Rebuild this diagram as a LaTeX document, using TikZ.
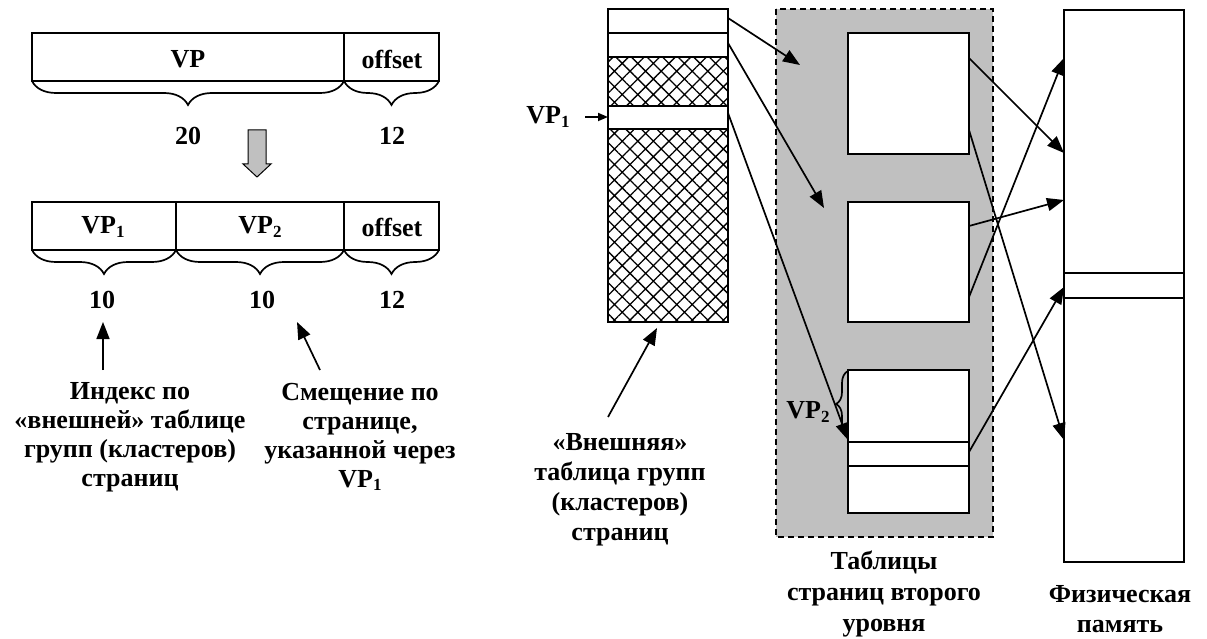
\documentclass[tikz,border=0pt]{standalone}
\usepackage{fontspec}
\setmainfont{Liberation Serif}
\usetikzlibrary{arrows.meta,decorations.pathreplacing,patterns.meta}
\newcommand{\mysub}[1]{\raisebox{-0.12em}{\fontsize{17}{17}\selectfont #1}}
\definecolor{panelgray}{HTML}{C0C0C0}
\tikzset{
  box/.style={draw, line width=2pt},
  lbl/.style={font=\fontsize{26}{29}\selectfont\bfseries, align=center, inner sep=0pt},
  arr/.style={-{Triangle[length=17pt,width=13pt]}, line width=1.7pt},
  smallarr/.style={-{Triangle[length=10pt,width=8pt]}, line width=1.7pt},
  brc/.style={decorate, decoration={brace, amplitude=#1}, line width=1.7pt},
  hatchfill/.style={pattern={Hatch[angle=45,distance=11pt,line width=1.3pt]}},
}
\begin{document}
\begin{tikzpicture}[x=1pt,y=-1pt]
\useasboundingbox (0,0) rectangle (1207,639);

% ---------- left: address formats ----------
\draw[box] (32,33) rectangle (439,81);
\draw[box] (344,33) -- (344,81);
\node[lbl] (vp) at (188,59) {VP};
\node[lbl] (off1) at (392,59) {offset};
\draw[brc=24pt] (344,81) -- (32,81);
\draw[brc=24pt] (439,81) -- (344,81);
\node[lbl] (n20) at (188,136) {20};
\node[lbl] (n12a) at (392,136) {12};

\draw[fill=panelgray, line width=1pt]
  (248,130) -- (266,130) -- (266,164) -- (271,164) -- (257,177) -- (243,164) -- (248,164) -- cycle;

\draw[box] (32,202) rectangle (439,250);
\draw[box] (176,202) -- (176,250);
\draw[box] (344,202) -- (344,250);
\node[lbl] (vp1) at (103,227) {VP\mysub{1}};
\node[lbl] (vp2) at (260,227) {VP\mysub{2}};
\node[lbl] (off2) at (392,227) {offset};
\draw[brc=24pt] (176,250) -- (32,250);
\draw[brc=24pt] (344,250) -- (176,250);
\draw[brc=24pt] (439,250) -- (344,250);
\node[lbl] (n10a) at (102,300) {10};
\node[lbl] (n10b) at (262,300) {10};
\node[lbl] (n12b) at (392,300) {12};

\node[lbl] (idx) at (130,437)
  {Индекс по\\«внешней» таблице\\групп (кластеров)\\страниц};
\node[lbl] (shift) at (360,437)
  {Смещение по\\странице,\\указанной через\\VP\mysub{1}};
\coordinate (idxtail) at (103,370);
\coordinate (idxtip) at (103,322);
\coordinate (shtail) at (320,370);
\coordinate (shtip) at (297,322);
\draw[arr] (idxtail) -- (idxtip);
\draw[arr] (shtail) -- (shtip);

% ---------- second-level panel ----------
\fill[panelgray] (776,9) rectangle (993,537);
\draw[dashed, line width=1.7pt, dash pattern=on 6pt off 4pt] (776,9) rectangle (993,537);
\draw[box, fill=white] (848,33) rectangle (969,154);
\draw[box, fill=white] (848,202) rectangle (969,322);
\draw[box, fill=white] (848,370) rectangle (969,513);
\draw[box] (848,442) -- (969,442);
\draw[box] (848,466) -- (969,466);
\draw[brc=12pt] (848,437) -- (848,371);
\node[lbl] (vp2b) at (808,412) {VP\mysub{2}};

% ---------- outer table ----------
\draw[box, hatchfill] (608,57) rectangle (728,106);
\draw[box, hatchfill] (608,129) rectangle (728,322);
\draw[box] (608,9) rectangle (728,322);
\draw[box] (608,33) -- (728,33);
\draw[box] (608,57) -- (728,57);
\draw[box] (608,106) -- (728,106);
\draw[box] (608,129) -- (728,129);
\node[lbl] (vp1b) at (548,117) {VP\mysub{1}};
\coordinate (vp1tail) at (585,117);
\coordinate (vp1tip) at (608,117);
\draw[smallarr] (vp1tail) -- (vp1tip);

\node[lbl, font=\fontsize{26}{30}\selectfont\bfseries] (outer) at (620,490)
  {«Внешняя»\\таблица групп\\(кластеров)\\страниц};
\coordinate (outtail) at (608,417);
\coordinate (outtip) at (657,328);
\draw[arr] (outtail) -- (outtip);

% ---------- physical memory ----------
\draw[box] (1064,10) rectangle (1184,562);
\draw[box] (1064,273) -- (1184,273);
\draw[box] (1064,298) -- (1184,298);

% ---------- connectors ----------
\coordinate (o1) at (728,18);
\coordinate (o2) at (728,43);
\coordinate (o3) at (728,113);
\coordinate (t1) at (800,65);
\coordinate (t2) at (824,208);
\coordinate (t3) at (848,440);
\draw[arr] (o1) -- (t1);
\draw[arr] (o2) -- (t2);
\draw[arr] (o3) -- (t3);

\coordinate (b1a) at (969,58);
\coordinate (b1b) at (969,130);
\coordinate (b2a) at (969,226);
\coordinate (b2b) at (969,297);
\coordinate (b3a) at (969,452);
\coordinate (m1) at (1064,153);
\coordinate (m2) at (1064,440);
\coordinate (m3) at (1064,200);
\coordinate (m4) at (1064,58);
\coordinate (m5) at (1064,287);
\draw[arr] (b1a) -- (m1);
\draw[arr] (b1b) -- (m2);
\draw[arr] (b2a) -- (m3);
\draw[arr] (b2b) -- (m4);
\draw[arr] (b3a) -- (m5);

% ---------- bottom labels ----------
\node[lbl, font=\fontsize{26}{31}\selectfont\bfseries] (tables) at (884,594)
  {Таблицы\\страниц второго\\уровня};
\node[lbl, font=\fontsize{26}{30}\selectfont\bfseries] (phys) at (1120,609)
  {Физическая\\память};
\end{tikzpicture}
\end{document}
